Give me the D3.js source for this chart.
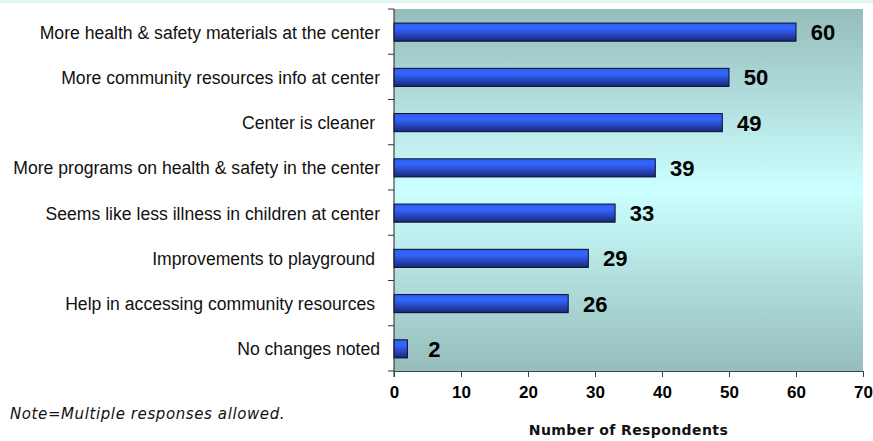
<!DOCTYPE html>
<html><head><meta charset="utf-8">
<script src="https://cdn.jsdelivr.net/npm/d3@7"></script>
<style>body{margin:0;background:#fff;}svg{display:block;}</style>
</head><body>
<svg id="c" width="873" height="441"></svg>
<script>
const categories = [
  "More health & safety materials at the center",
  "More community resources info at center",
  "Center is cleaner ",
  "More programs on health & safety in the center",
  "Seems like less illness in children at center",
  "Improvements to playground ",
  "Help in accessing community resources ",
  "No changes noted"
];
const values = [60, 50, 49, 39, 33, 29, 26, 2];
const xTicks = [0, 10, 20, 30, 40, 50, 60, 70];
const xTitle = "Number of Respondents";
const note = "Note=Multiple responses allowed.";

const svg = d3.select("#c");
const L = 394, R = 863, T = 9, B = 371;

const defs = svg.append("defs");
const bg = defs.append("linearGradient").attr("id","bg").attr("x1",0).attr("y1",0).attr("x2",0).attr("y2",1);
bg.append("stop").attr("offset","0%").attr("stop-color","#95bdbb");
bg.append("stop").attr("offset","50%").attr("stop-color","#ccffff");
bg.append("stop").attr("offset","100%").attr("stop-color","#95bdbb");
const bar = defs.append("linearGradient").attr("id","bar").attr("x1",0).attr("y1",0).attr("x2",0).attr("y2",1);
bar.append("stop").attr("offset","0%").attr("stop-color","#2f5ff0");
bar.append("stop").attr("offset","30%").attr("stop-color","#3366ff");
bar.append("stop").attr("offset","100%").attr("stop-color","#1a2778");

svg.append("rect").attr("x",0).attr("y",0).attr("width",873).attr("height",3).attr("fill","#e0f6f4");

const x = d3.scaleLinear().domain([0,70]).range([L,R]);
const y = d3.scaleBand().domain(categories).range([T,B]).paddingInner(0.6).paddingOuter(0.3);

svg.append("rect").attr("x",L).attr("y",T).attr("width",R-L).attr("height",B-T).attr("fill","url(#bg)");

svg.selectAll("rect.bar").data(values).enter().append("rect").attr("class","bar")
  .attr("x", x(0)).attr("y",(d,i)=>y(categories[i])+0.5)
  .attr("width", d=>x(d)-x(0)).attr("height", y.bandwidth())
  .attr("fill","url(#bar)").attr("stroke","#0a0a30").attr("stroke-width",1);

svg.selectAll("text.val").data(values).enter().append("text").attr("class","val")
  .attr("x", d=>x(d)+27).attr("y",(d,i)=>y(categories[i])+y.bandwidth()/2+1)
  .attr("text-anchor","middle").attr("dominant-baseline","central")
  .attr("font-family","Liberation Sans, Arial, sans-serif").attr("font-weight","bold").attr("font-size",22)
  .attr("fill","#000").text(d=>d);

svg.selectAll("text.cat").data(categories).enter().append("text").attr("class","cat")
  .attr("x",380).attr("y",d=>y(d)+y.bandwidth()/2+1)
  .attr("text-anchor","end").attr("dominant-baseline","central")
  .style("white-space","pre")
  .attr("font-family","Liberation Sans, Arial, sans-serif").attr("font-size",17.6)
  .attr("fill","#111").text(d=>d);

const step = y.step();
const bounds = d3.range(categories.length+1).map(i => T + i*step);
svg.append("line").attr("x1",L).attr("x2",L).attr("y1",T).attr("y2",B+6).attr("stroke","#222");
svg.selectAll("line.lt").data(bounds).enter().append("line").attr("class","lt")
  .attr("x1",L-6).attr("x2",L).attr("y1",d=>d).attr("y2",d=>d).attr("stroke","#333");

const xa = svg.append("g").attr("transform",`translate(0,${B})`)
  .call(d3.axisBottom(x).tickValues(xTicks).tickSize(6).tickSizeOuter(0).tickPadding(9));
xa.select(".domain").attr("stroke","#3c4646");
xa.selectAll(".tick line").attr("stroke","#3c4646");
xa.selectAll("text").attr("font-family","Liberation Sans, Arial, sans-serif").attr("font-weight","bold").attr("font-size",17).attr("fill","#000");

svg.append("text").attr("x",(L+R)/2).attr("y",435).attr("text-anchor","middle")
  .attr("font-family","DejaVu Sans, Verdana, sans-serif").attr("font-weight","bold").attr("font-size",14)
  .attr("letter-spacing",0.4)
  .attr("fill","#111").text(xTitle);

svg.append("text").attr("x",10).attr("y",419)
  .attr("font-family","DejaVu Sans, Verdana, sans-serif").attr("font-style","italic").attr("font-size",15)
  .attr("letter-spacing",0.6)
  .attr("fill","#111").text(note);
</script>
</body></html>
